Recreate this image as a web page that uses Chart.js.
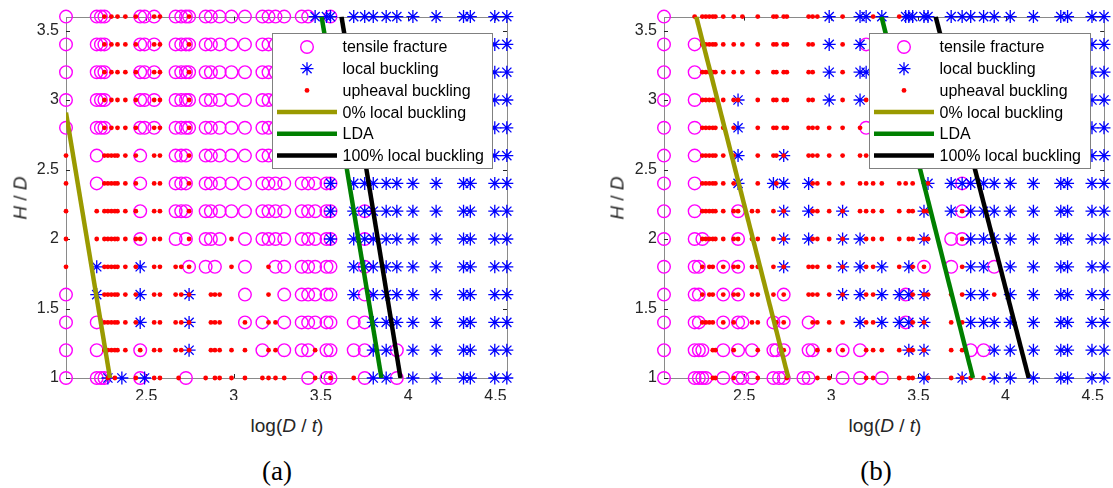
<!DOCTYPE html>
<html>
<head>
<meta charset="utf-8">
<title>Failure modes</title>
<script src="https://cdn.jsdelivr.net/npm/chart.js@4.4.1/dist/chart.umd.min.js"></script>
<style>
  body { margin: 0; background: #fff; }
  #wrap { position: relative; width: 1113px; height: 488px; overflow: hidden;
          font-family: Arial, "Liberation Sans", sans-serif; color: #262626; }
  canvas { position: absolute; top: 0; }
  #chartA { left: 0; }
  #chartB { left: 556px; }
  .xlab, .ylab, .cap { position: absolute; white-space: nowrap; line-height: 1; }
  .xlab { font-size: 19px; transform: translate(-50%, -50%); }
  .ylab { font-size: 19px; transform: translate(-50%, -50%) rotate(-90deg); }
  .cap { font-family: "Times New Roman", "Liberation Serif", serif; font-size: 27px; color: #000;
         transform: translate(-50%, -50%); }
</style>
</head>
<body>
<div id="wrap">
  <canvas id="chartA" width="556" height="400"></canvas>
  <canvas id="chartB" width="557" height="400"></canvas>
  <div class="ylab" style="left:20px; top:198px;"><i>H</i> / <i>D</i></div>
  <div class="ylab" style="left:617px; top:198px;"><i>H</i> / <i>D</i></div>
  <div class="xlab" style="left:287px; top:425px;">log(<i>D</i> / <i>t</i>)</div>
  <div class="xlab" style="left:885px; top:425px;">log(<i>D</i> / <i>t</i>)</div>
  <div class="cap" style="left:277px; top:471px;">(a)</div>
  <div class="cap" style="left:876px; top:471px;">(b)</div>
</div>
<script>
// -------------------------------
// Data
// -------------------------------
// log(D/t) of every column of the parameter grid
const xCols = [
  2.04, 2.216, 2.24, 2.26, 2.28, 2.30, 2.32, 2.335, 2.36, 2.38,
  2.44, 2.465, 2.49, 2.545, 2.578, 2.668, 2.685, 2.70, 2.727, 2.745,
  2.84, 2.87, 2.893, 2.92, 2.988, 3.065, 3.165, 3.20, 3.24, 3.29,
  3.39, 3.427, 3.445, 3.467, 3.532, 3.555, 3.688, 3.751, 3.80, 3.874,
  3.935, 4.027, 4.16, 4.317, 4.356, 4.496, 4.565
];
// H/D of every row, top to bottom
const hdRows = [3.6, 3.4, 3.2, 3.0, 2.8, 2.6, 2.4, 2.2, 2.0, 1.8, 1.6, 1.4, 1.2, 1.0];

const xTicks = [2.5, 3, 3.5, 4, 4.5];
const yTicks = [1, 1.5, 2, 2.5, 3, 3.5];

const seriesNames = ['tensile fracture', 'local buckling', 'upheaval buckling',
                     '0% local buckling', 'LDA', '100% local buckling'];

// failure mode per grid cell (one char per column, '|' only groups by ten)
// o tensile fracture, * local buckling, . upheaval buckling
// b = o and .,  x = * and .,  q = o and *,  - = nothing
const casesA = [
  'ooob-.-.-.|.oob.o-oob|oo-ooooooo|oo-**q****|*******',
  'ooob-.-.-.|.oob.o-oob|oo-ooooooo|oo-**q****|*******',
  'ooob-.-.-.|.oob.o-oob|oo-ooooooo|oo-**q****|*******',
  'ooob-.-.-.|.oob.o-oob|oo-ooooooo|oo-ooq****|*******',
  'ooob-.-.-.|.oob.o-oob|oo-ooooooo|oo-ooq****|*******',
  '.o-.....-.|.o-..o-oo.|oo-ooooooo|oo-ooq****|*******',
  '.o-.....-.|.o-..o-oo.|oo-ooooooo|oo-ooq****|*******',
  '..-.....-.|.o-..o-oo.|oo-ooooooo|oo-ooq*q**|*******',
  '..-.....-.|.b-..o--o.|oo-o.ooooo|oo-ooq*q**|*******',
  '.*-.....-.|.*-...-.-b|o-o-.o-.oo|oo-ooo*q**|*******',
  'o*-.....-.|.*-...-.-x|-...-o-.-o|oo-ooo*o**|*******',
  'oo-.....-.|.*-...-.-x|-...-bo..o|oo-ooooo**|*******',
  'oo-.....-.|-b-...-.-x|-.....o..o|oo-.oooo**|o******',
  'oooox-.-*-|.o*..-.-o-|.-........|-o-.ob.o**|o******'
];
const casesB = [
  'o.-.....-.|.-.-...-..|-...*.**.*|.*********|*******',
  'oo-.....-.|.-.-...-..|-..-*.*o.*|.*********|*******',
  'oo-.....-.|.-.-...-..|-..-*.**.*|.*********|*******',
  'oo-.....-.|.x--...-..|-..-*.*..*|.*********|*******',
  'oo-.....-.|.*--...-..|-......o..|..*.******|*******',
  'oo-.....-.|.*--...-x-|-........-|..*..x****|*******',
  'oo-.....-.|.*--.*.-*-|-*........|..-.-x*q**|*******',
  'oo-.....-.|.b-...--x-|-*...x....|.-..x.*b**|*******',
  'oo-b....-.|.b-...--x-|-*...x*...|.-..x.ob**|*******',
  'ooo.-..--b|.b-...--x-|-....x*..*|.-*.b-o.**|o******',
  'ooo.-..--b|.b-...--b-|-....x*..*|*o*.x...**|.******',
  'ooo....--b|.oo..o.-b-|-o....*..*|*o*.x-..**|*******',
  'oooo--..-o|.o-o.oo-b-|-oo..bo...|.-x.x-..oo|*******',
  'ooooo-..-o|.ooo.o-oo.|oo-..oo..o|.-..*..x..|*******'
];

// boundary lines, [log(D/t), H/D] at both ends
const zeroLineA = [[2.04, 2.91], [2.292, 1.0]];
const ldaLineA = [[3.504, 3.6], [3.847, 1.0]];
const fullLineA = [[3.618, 3.6], [3.956, 1.0]];
const zeroLineB = [[2.225, 3.6], [2.754, 1.0]];
const ldaLineB = [[3.288, 3.6], [3.813, 1.0]];
const fullLineB = [[3.599, 3.6], [4.133, 1.0]];

// -------------------------------
// Styles
// -------------------------------
const MAGENTA = '#ff00ff';
const BLUE = '#0000ff';
const RED = '#ff0000';
const OLIVE = '#9a9a00';
const GREEN = '#008000';
const BLACK = '#000000';

const markerStyles = [
  { pointStyle: 'circle', radius: 6.3, borderWidth: 1.4, stroke: MAGENTA, fill: 'rgba(0,0,0,0)' },
  { pointStyle: 'star', radius: 6.5, borderWidth: 1.3, stroke: BLUE, fill: BLUE },
  { pointStyle: 'circle', radius: 2.4, borderWidth: 0, stroke: RED, fill: RED }
];
const lineColors = [OLIVE, GREEN, BLACK];

// split the case strings into the three failure modes
function splitCases(rows) {
  const out = { tensile: [], local: [], upheaval: [] };
  rows.forEach(function (row, i) {
    const codes = row.replace(/\|/g, '');
    for (let j = 0; j < codes.length && j < xCols.length; j++) {
      const c = codes[j];
      const p = { x: xCols[j], y: hdRows[i] };
      if ('obq'.includes(c)) out.tensile.push(p);
      if ('*xq'.includes(c)) out.local.push(p);
      if ('.bx'.includes(c)) out.upheaval.push(p);
    }
  });
  return out;
}

function toPoints(pairs) {
  return pairs.map(function (p) { return { x: p[0], y: p[1] }; });
}

// -------------------------------
// Plugins: box with inner ticks, legend
// -------------------------------
const framePlugin = {
  id: 'frame',
  beforeDatasetsDraw(chart) {
    const ctx = chart.ctx;
    const a = chart.chartArea;
    const x = chart.scales.x;
    const y = chart.scales.y;
    ctx.save();
    ctx.strokeStyle = '#8a8a8a';
    ctx.lineWidth = 1;
    ctx.strokeRect(Math.round(a.left) + 0.5, Math.round(a.top) + 0.5,
                   Math.round(a.right - a.left), Math.round(a.bottom - a.top));
    ctx.strokeStyle = '#262626';
    ctx.beginPath();
    xTicks.forEach(function (v) {
      const px = Math.round(x.getPixelForValue(v)) + 0.5;
      ctx.moveTo(px, a.bottom); ctx.lineTo(px, a.bottom - 4);
      ctx.moveTo(px, a.top); ctx.lineTo(px, a.top + 4);
    });
    yTicks.forEach(function (v) {
      const py = Math.round(y.getPixelForValue(v)) + 0.5;
      ctx.moveTo(a.left, py); ctx.lineTo(a.left + 4, py);
      ctx.moveTo(a.right, py); ctx.lineTo(a.right - 4, py);
    });
    ctx.stroke();
    ctx.restore();
  }
};

const boxLegendPlugin = {
  id: 'boxLegend',
  afterDraw(chart, args, opts) {
    const ctx = chart.ctx;
    const left = opts.left, top = opts.top;
    ctx.save();
    ctx.fillStyle = '#ffffff';
    ctx.fillRect(left, top, opts.width, opts.height);
    ctx.strokeStyle = '#808080';
    ctx.lineWidth = 1;
    ctx.strokeRect(left + 0.5, top + 0.5, opts.width, opts.height);
    ctx.font = '16px Arial, "Liberation Sans", sans-serif';
    ctx.textBaseline = 'middle';
    seriesNames.forEach(function (name, i) {
      const cy = top + 14 + i * 21.7;
      if (i < 3) {
        const m = markerStyles[i];
        ctx.strokeStyle = m.stroke;
        ctx.fillStyle = m.fill;
        ctx.lineWidth = m.borderWidth;
        Chart.helpers.drawPoint(ctx, { pointStyle: m.pointStyle, radius: m.radius,
          borderWidth: m.borderWidth, rotation: 0 }, left + 35, cy);
      } else {
        ctx.strokeStyle = lineColors[i - 3];
        ctx.lineWidth = 4.5;
        ctx.beginPath();
        ctx.moveTo(left + 5, cy);
        ctx.lineTo(left + 65, cy);
        ctx.stroke();
      }
      ctx.fillStyle = '#000';
      ctx.fillText(name, left + 70.5, cy + 1);
    });
    ctx.restore();
  }
};

// -------------------------------
// Build one panel
// -------------------------------
function makePanel(canvasId, cases, lines, plotLeft, plotRight, legendBox) {
  const canvas = document.getElementById(canvasId);
  const split = splitCases(cases);
  const groups = [split.tensile, split.local, split.upheaval];

  const datasets = [];
  lines.forEach(function (pairs, i) {
    datasets.push({
      label: seriesNames[i + 3],
      data: toPoints(pairs),
      showLine: true,
      borderColor: lineColors[i],
      borderWidth: 4.5,
      pointRadius: 0,
      order: 0
    });
  });
  groups.forEach(function (pts, i) {
    const m = markerStyles[i];
    datasets.push({
      label: seriesNames[i],
      data: pts,
      pointStyle: m.pointStyle,
      pointRadius: m.radius,
      borderWidth: m.borderWidth,
      borderColor: m.stroke,
      backgroundColor: m.fill,
      clip: false,
      order: 3 - i
    });
  });

  return new Chart(canvas.getContext('2d'), {
    type: 'scatter',
    data: { datasets: datasets },
    options: {
      responsive: false,
      animation: false,
      events: [],
      layout: { padding: { left: 0, right: canvas.width - plotRight, top: 16, bottom: 0 } },
      plugins: {
        legend: { display: false },
        tooltip: { enabled: false },
        boxLegend: legendBox
      },
      scales: {
        x: {
          type: 'linear', min: 2.04, max: 4.566,
          grid: { display: false, drawTicks: false },
          border: { display: false },
          afterBuildTicks: function (s) { s.ticks = xTicks.map(function (v) { return { value: v }; }); },
          afterFit: function (s) { s.height = 22; },
          ticks: { padding: 9, color: '#262626', font: { family: 'Arial', size: 16 },
                   maxRotation: 0, autoSkip: false,
                   callback: function (v) { return String(v); } }
        },
        y: {
          type: 'linear', min: 1, max: 3.6,
          grid: { display: false, drawTicks: false },
          border: { display: false },
          afterBuildTicks: function (s) { s.ticks = yTicks.map(function (v) { return { value: v }; }); },
          afterFit: function (s) { s.width = plotLeft; },
          ticks: { padding: 7, color: '#262626', font: { family: 'Arial', size: 16 },
                   autoSkip: false,
                   callback: function (v) { return String(v); } }
        }
      }
    },
    plugins: [framePlugin, boxLegendPlugin]
  });
}

document.addEventListener('DOMContentLoaded', function () {
  makePanel('chartA', casesA, [zeroLineA, ldaLineA, fullLineA], 66, 507,
            { left: 272, top: 33, width: 220, height: 135 });
  makePanel('chartB', casesB, [zeroLineB, ldaLineB, fullLineB], 108, 549,
            { left: 313, top: 33, width: 221, height: 135 });
});
</script>
</body>
</html>
